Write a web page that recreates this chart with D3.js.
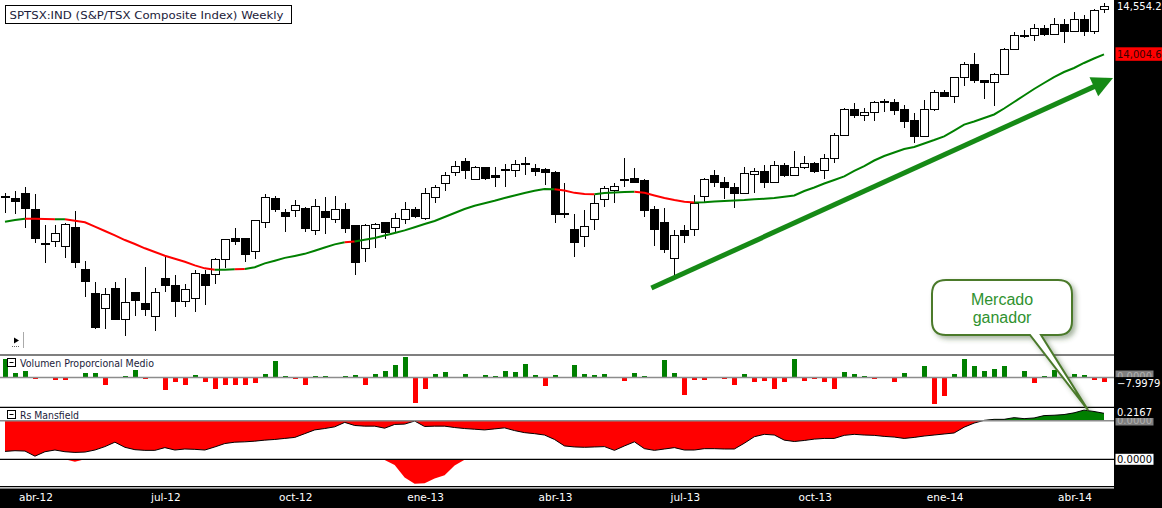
<!DOCTYPE html>
<html>
<head>
<meta charset="utf-8">
<script src="https://cdn.jsdelivr.net/npm/d3@7"></script>
<style>
  body { margin: 0; background: #fff; }
  svg { display: block; }
  text { font-family: "DejaVu Sans", Tahoma, sans-serif; }
</style>
</head>
<body>
<svg id="chart" width="1162" height="508"></svg>
<script>
// weekly candles, SPTSX, mid-March 2012 .. April 2014
const OPEN = [
  12375, 12369, 12415, 12244, 11850, 11876, 11820, 12039, 11561, 11277,
  11114, 11334, 10989, 11296, 11174, 11023, 11459, 11379, 11194, 11228,
  11501, 11501, 11672, 11908, 11911, 11766, 12093, 12366, 12202, 12229,
  12252, 12002, 12221, 12127, 12233, 12051, 11797, 12024, 12096, 12036,
  12127, 12241, 12138, 12377, 12529, 12662, 12790, 12582, 12711, 12631,
  12684, 12677, 12752, 12707, 12696, 12662, 12193, 12013, 11933, 12122,
  12354, 12457, 12570, 12593, 12563, 12233, 12085, 11683, 12005, 12013,
  12392, 12620, 12551, 12494, 12423, 12639, 12673, 12548, 12741, 12628,
  12722, 12764, 12677, 12821, 13083, 13371, 13306, 13345, 13462, 13458,
  13371, 13246, 13067, 13371, 13572, 13522, 13743, 13891, 13712, 13686,
  13777, 14061, 14210, 14213, 14300, 14232, 14346, 14262, 14403, 14262,
  14509
];
const HIGH = [
  12426, 12452, 12498, 12415, 12062, 12062, 12088, 12221, 11652, 11410,
  11342, 11410, 11462, 11300, 11584, 11348, 11717, 11490, 11391, 11550,
  11550, 11683, 11905, 12024, 11915, 12119, 12415, 12392, 12241, 12346,
  12270, 12358, 12381, 12392, 12309, 12062, 12070, 12081, 12100, 12202,
  12327, 12270, 12480, 12517, 12662, 12794, 12821, 12733, 12725, 12725,
  12756, 12802, 12832, 12756, 12707, 12680, 12537, 12187, 12233, 12403,
  12506, 12543, 12821, 12707, 12582, 12282, 12252, 12005, 12062, 12403,
  12600, 12688, 12612, 12543, 12719, 12707, 12745, 12794, 12764, 12904,
  12851, 12782, 12870, 13112, 13390, 13447, 13390, 13473, 13496, 13496,
  13428, 13333, 13485, 13598, 13598, 13748, 13920, 14016, 13716, 13795,
  14073, 14255, 14281, 14349, 14338, 14414, 14406, 14483, 14452, 14517,
  14592
];
const LOW = [
  12199, 12187, 12024, 11854, 11633, 11808, 11690, 11576, 11246, 10875,
  10875, 10981, 10802, 11030, 11030, 10859, 11296, 11012, 11132, 11075,
  11148, 11387, 11569, 11834, 11638, 11672, 12024, 12213, 11986, 12156,
  11982, 11952, 11956, 12081, 11974, 11493, 11644, 11797, 11899, 11974,
  12073, 12138, 12119, 12316, 12452, 12620, 12582, 12574, 12574, 12498,
  12491, 12612, 12631, 12623, 12517, 12081, 12138, 11694, 11815, 12005,
  12270, 12309, 12498, 12540, 12156, 11823, 11740, 11493, 11854, 11940,
  12309, 12498, 12354, 12259, 12420, 12423, 12480, 12537, 12605, 12625,
  12696, 12650, 12582, 12764, 13080, 13276, 13249, 13249, 13351, 13314,
  13162, 12999, 13060, 13365, 13518, 13447, 13644, 13681, 13496, 13416,
  13772, 14055, 14193, 14159, 14213, 14224, 14137, 14258, 14216, 14232,
  14471
];
const CLOSE = [
  12385, 12327, 12248, 11906, 11842, 11968, 12073, 11633, 11417, 10893,
  11273, 10992, 11182, 11200, 11103, 11296, 11371, 11194, 11330, 11512,
  11371, 11664, 11899, 11880, 11729, 12108, 12377, 12241, 12161, 12286,
  12020, 12275, 12145, 12241, 12020, 11633, 12051, 12073, 11979, 12134,
  12241, 12161, 12423, 12491, 12631, 12725, 12684, 12719, 12589, 12605,
  12692, 12753, 12760, 12673, 12662, 12187, 12181, 11861, 12047, 12312,
  12480, 12502, 12578, 12543, 12225, 12008, 11785, 11945, 11940, 12309,
  12582, 12548, 12491, 12423, 12650, 12673, 12548, 12741, 12623, 12714,
  12764, 12669, 12819, 13086, 13371, 13306, 13345, 13458, 13468, 13363,
  13238, 13067, 13371, 13572, 13522, 13743, 13891, 13704, 13686, 13780,
  14061, 14213, 14216, 14300, 14232, 14346, 14262, 14403, 14262, 14501,
  14554.25
];
// 30-week moving average as drawn
const MA30 = [
  12100, 12119, 12134, 12132, 12130, 12128, 12127, 12111, 12093, 12043,
  11994, 11945, 11891, 11846, 11797, 11755, 11713, 11678, 11644, 11603,
  11569, 11553, 11553, 11558, 11561, 11581, 11626, 11656, 11688, 11710,
  11734, 11770, 11806, 11842, 11865, 11874, 11894, 11914, 11942, 11971,
  12001, 12037, 12073, 12108, 12153, 12199, 12244, 12282, 12310, 12338,
  12369, 12398, 12426, 12451, 12472, 12469, 12455, 12428, 12415, 12411,
  12426, 12432, 12438, 12441, 12428, 12398, 12369, 12346, 12327, 12317,
  12321, 12329, 12335, 12341, 12346, 12354, 12361, 12369, 12383, 12398,
  12449, 12489, 12534, 12574, 12616, 12677, 12733, 12796, 12847, 12887,
  12927, 12950, 12990, 13029, 13071, 13137, 13205, 13240, 13280, 13320,
  13388, 13462, 13536, 13610, 13678, 13746, 13803, 13849, 13906, 13957,
  14004.67
];
// MA segments drawn red: [from, to) in bar index
const MA_RED_RANGES = [[2, 5], [6, 21], [23, 24], [34, 35], [55, 59], [63, 69]];

const VOLUME = [
  32.8, 8.3, 12, -3.5, 0, -5.3, -5.3, 0, 8.3, 8.3,
  -14.2, 0, 1.8, 13.7, -3.5, 0, -23.2, -8.8, -12.5, 4.8,
  -8.8, -19.7, -12.5, -12.5, -12.5, -10.7, 6.7, 29.8, 1.8, -3.5,
  -14.2, 1.8, 3, 0, 3, 4.8, -12.5, 6.7, 12, 22.7,
  35.8, -46.3, -19.7, 6.7, 10.2, 0, 6.7, 0, 4.8, 3,
  12, 10.2, 24.5, 4.8, -16, 3.9, 0, 22.2, 6, 4.2,
  6, 0, -6, 7.8, 2.3, 0, 31, 7.8, -31, -4.2,
  -4.2, 0, -2.3, -13, 6, -7.7, -6, -20.2, -7.7, 32.8,
  -6, -2.3, -7.7, -20.2, 9.5, 6, 2.3, -2.3, 0, -7.7,
  7.8, 0, 20.3, -47, -32.7, 6, 32.8, 20.3, 11.3, 14.8,
  20.3, 0, 11.3, -9.5, 2.3, 13.2, 0, 7.1, 4.1, -4.8,
  -7.9979
];

const RS_MANSFIELD = [
  -0.90, -0.88, -0.89, -1.04, -0.91, -0.86, -0.91, -0.93, -0.92, -0.86,
  -0.76, -0.63, -0.78, -0.85, -0.87, -0.87, -0.79, -0.86, -0.83, -0.84,
  -0.86, -0.77, -0.67, -0.63, -0.62, -0.60, -0.57, -0.55, -0.52, -0.49,
  -0.38, -0.27, -0.23, -0.18, -0.05, -0.14, -0.16, -0.16, -0.22, -0.11,
  -0.10, -0.01, -0.17, -0.16, -0.16, -0.20, -0.23, -0.25, -0.27, -0.24,
  -0.21, -0.29, -0.35, -0.38, -0.42, -0.55, -0.74, -0.77, -0.78, -0.77,
  -0.76, -0.87, -0.74, -0.62, -0.82, -0.87, -0.83, -0.79, -0.86, -0.86,
  -0.82, -0.82, -0.83, -0.83, -0.66, -0.47, -0.40, -0.42, -0.57, -0.61,
  -0.58, -0.54, -0.52, -0.52, -0.43, -0.40, -0.42, -0.43, -0.46, -0.48,
  -0.52, -0.49, -0.45, -0.42, -0.39, -0.36, -0.19, -0.07, 0.01, 0.04,
  0.04, 0.09, 0.06, 0.08, 0.15, 0.16, 0.18, 0.23, 0.31, 0.27,
  0.2167
];
// second trace in the lower half of the RS pane
const RS_LOWER = [
  0, 0, 0, 0, 0, 0, 0, -0.07, 0, 0,
  0, 0, 0, 0, 0, 0, 0, 0, 0, 0,
  0, 0, 0, 0, 0, 0, 0, 0, 0, 0,
  0, 0, 0, 0, 0, 0, 0, 0, -0.02, -0.17,
  -0.53, -0.72, -0.70, -0.56, -0.47, -0.18, -0.01, 0, 0, 0,
  0, 0, 0, 0, 0, 0, 0, 0, 0, 0,
  0, 0, 0, 0, 0, 0, 0, 0, 0, 0,
  0, 0, 0, 0, 0, 0, 0, 0, 0, 0,
  0, 0, 0, 0, 0, 0, 0, 0, 0, 0,
  0, 0, 0, 0, 0, 0, 0, 0, 0, 0,
  0, 0, 0, 0, 0, 0, 0, 0, 0, 0,
  0
];

const X_TICK_LABELS = ['abr-12', 'jul-12', 'oct-12', 'ene-13', 'abr-13', 'jul-13', 'oct-13', 'ene-14', 'abr-14'];
const X_TICK_INDEX = [3, 16, 29, 42, 55, 68, 81, 94, 107];

const TITLE = 'SPTSX:IND (S&P/TSX Composite Index) Weekly';
const CALLOUT_TEXT = ['Mercado', 'ganador'];
// trend arrow, in (bar index, price)
const ARROW_FROM = [64.7, 11345];
const ARROW_TO = [110.9, 13735];

const N = CLOSE.length;
const PLOT_R = 1114;
const GREEN = '#008000', RED = '#ff0000';

const svg = d3.select('#chart');

const x = d3.scaleLinear().domain([0, N - 1]).range([5, 1104]);
const yPrice = d3.scaleLinear().domain([10700, 14700]).range([344.7, -6.8]);
const yVol = d3.scaleLinear().domain([-50, 40]).range([405.5, 355.1]);
const yRs = d3.scaleLinear().domain([-1.2, 0.4]).range([461.62, 407.06]);
const yRs2 = d3.scaleLinear().domain([-0.8, 0]).range([486.6, 459.3]);

const defs = svg.append('defs');
defs.append('clipPath').attr('id', 'clipMain')
  .append('rect').attr('x', 0).attr('y', 0).attr('width', PLOT_R).attr('height', 354);
defs.append('clipPath').attr('id', 'clipPos')
  .append('rect').attr('x', 0).attr('y', 407).attr('width', PLOT_R).attr('height', yRs(0) - 407);
defs.append('clipPath').attr('id', 'clipNeg')
  .append('rect').attr('x', 0).attr('y', yRs(0)).attr('width', PLOT_R).attr('height', 459 - yRs(0));
const shadow = defs.append('filter').attr('id', 'shadow')
  .attr('x', '-20%').attr('y', '-20%').attr('width', '150%').attr('height', '150%');
shadow.append('feDropShadow').attr('dx', 3).attr('dy', 3).attr('stdDeviation', 2.5)
  .attr('flood-color', '#3d5a2a').attr('flood-opacity', 0.45);
const blur = defs.append('filter').attr('id', 'soft');
blur.append('feGaussianBlur').attr('stdDeviation', 0.6);

svg.append('rect').attr('width', 1162).attr('height', 508).attr('fill', '#fff');

// ---- price pane
const main = svg.append('g').attr('clip-path', 'url(#clipMain)');

const candles = main.append('g').attr('shape-rendering', 'crispEdges');
const idx = d3.range(N);

candles.selectAll('line.wick')
  .data(idx)
  .join('line')
  .attr('class', 'wick')
  .attr('x1', i => Math.round(x(i)) + 0.5)
  .attr('x2', i => Math.round(x(i)) + 0.5)
  .attr('y1', i => yPrice(HIGH[i]))
  .attr('y2', i => yPrice(LOW[i]))
  .attr('stroke', '#000')
  .attr('stroke-width', 1);

candles.selectAll('rect.body')
  .data(idx)
  .join('rect')
  .attr('class', 'body')
  .attr('x', i => Math.round(x(i)) - 3.5)
  .attr('width', 8)
  .attr('y', i => Math.min(yPrice(OPEN[i]), yPrice(CLOSE[i])))
  .attr('height', i => Math.max(1, Math.abs(yPrice(OPEN[i]) - yPrice(CLOSE[i]))))
  .attr('fill', i => CLOSE[i] >= OPEN[i] ? '#fff' : '#000')
  .attr('stroke', '#000')
  .attr('stroke-width', 1);

// moving average, split into coloured runs
const isRed = i => MA_RED_RANGES.some(r => i >= r[0] && i < r[1]);
const maLine = d3.line().x(i => x(i)).y(i => yPrice(MA30[i]));
let runStart = 0;
for (let i = 1; i <= N - 1; i++) {
  const colour = isRed(i - 1);
  if (i === N - 1 || isRed(i) !== colour) {
    main.append('path')
      .attr('d', maLine(d3.range(runStart, i + 1)))
      .attr('fill', 'none')
      .attr('stroke', colour ? RED : GREEN)
      .attr('stroke-width', 2);
    runStart = i;
  }
}

// trend arrow
{
  const x0 = x(ARROW_FROM[0]), y0 = yPrice(ARROW_FROM[1]);
  const x1 = x(ARROW_TO[0]), y1 = yPrice(ARROW_TO[1]);
  const len = Math.hypot(x1 - x0, y1 - y0);
  const ux = (x1 - x0) / len, uy = (y1 - y0) / len;
  const hl = 21, hw = 10.5;
  const bx = x1 - ux * hl, by = y1 - uy * hl;
  const g = svg.append('g').attr('filter', 'url(#soft)');
  g.append('line')
    .attr('x1', x0).attr('y1', y0).attr('x2', bx + ux * 2).attr('y2', by + uy * 2)
    .attr('stroke', '#178a17').attr('stroke-width', 5);
  g.append('path')
    .attr('d', `M${x1},${y1}L${bx - uy * hw},${by + ux * hw}L${bx + uy * hw},${by - ux * hw}Z`)
    .attr('fill', '#178a17');
}

// title box
svg.append('rect').attr('x', 5.5).attr('y', 5.5).attr('width', 286).attr('height', 18)
  .attr('fill', '#fff').attr('stroke', '#000').attr('stroke-width', 1);
svg.append('text').attr('x', 9.5).attr('y', 18.5)
  .attr('font-size', 11).attr('fill', '#1b1b3a')
  .attr('textLength', 274).attr('lengthAdjust', 'spacingAndGlyphs')
  .text(TITLE);

// small pane widget, bottom-left of price pane
svg.append('path').attr('d', 'M14,337.5L19,340.5L14,343.5Z').attr('fill', '#000');
svg.append('line').attr('x1', 12).attr('x2', 20).attr('y1', 346.5).attr('y2', 346.5)
  .attr('stroke', '#666').attr('stroke-dasharray', '1,1');
svg.append('line').attr('x1', 23.5).attr('x2', 23.5).attr('y1', 332).attr('y2', 348)
  .attr('stroke', '#aaa');

// ---- volume pane
const vol = svg.append('g').attr('shape-rendering', 'crispEdges');
vol.selectAll('rect')
  .data(idx.filter(i => VOLUME[i] !== 0))
  .join('rect')
  .attr('x', i => Math.round(x(i)) - 2)
  .attr('width', 5)
  .attr('y', i => Math.min(yVol(VOLUME[i]), yVol(0)))
  .attr('height', i => Math.abs(yVol(VOLUME[i]) - yVol(0)))
  .attr('fill', i => VOLUME[i] > 0 ? GREEN : RED);

// ---- RS Mansfield pane
const rsArea = d3.area().x(i => x(i)).y0(yRs(0)).y1(i => yRs(RS_MANSFIELD[i]));
svg.append('path').attr('d', rsArea(idx)).attr('fill', RED).attr('clip-path', 'url(#clipNeg)');
svg.append('path').attr('d', rsArea(idx)).attr('fill', GREEN).attr('clip-path', 'url(#clipPos)');
svg.append('path')
  .attr('d', d3.line().x(i => x(i)).y(i => yRs(RS_MANSFIELD[i]))(idx))
  .attr('fill', 'none').attr('stroke', '#000').attr('stroke-width', 1);

const rs2Area = d3.area().x(i => x(i)).y0(yRs2(0)).y1(i => yRs2(RS_LOWER[i]));
svg.append('path').attr('d', rs2Area(idx)).attr('fill', RED);

// pane separators and zero lines
const hline = (y, colour, w) => svg.append('line')
  .attr('x1', 0).attr('x2', PLOT_R).attr('y1', y).attr('y2', y)
  .attr('stroke', colour).attr('stroke-width', w);
hline(355, '#000', 1.2);
hline(yVol(0), '#8c8c8c', 1.5);
hline(407.3, '#000', 1.2);
hline(yRs(0), '#8c8c8c', 1.5);
hline(yRs2(0), '#000', 1.2);
hline(486.6, '#000', 1.2);

// pane titles
function paneTitle(y, label, width) {
  svg.append('rect').attr('x', 7.5).attr('y', y - 8.5).attr('width', 8).attr('height', 8)
    .attr('fill', '#fff').attr('stroke', '#000').attr('stroke-width', 1);
  svg.append('line').attr('x1', 9.5).attr('x2', 13.5).attr('y1', y - 4.5).attr('y2', y - 4.5)
    .attr('stroke', '#000').attr('stroke-width', 1);
  svg.append('text').attr('x', 20).attr('y', y)
    .attr('font-size', 10).attr('fill', '#1b1b3a')
    .attr('textLength', width).attr('lengthAdjust', 'spacingAndGlyphs')
    .text(label);
}
paneTitle(367, 'Volumen Proporcional Medio', 134);
paneTitle(419, 'Rs Mansfield', 59);

// callout pointing at the RS peak
{
  const tipX = x(108) + 4, tipY = yRs(RS_MANSFIELD[108]);
  const L = 932, T = 280, R = 1072, B = 335, r = 14;
  const d = `M${L + r},${T}H${R - r}Q${R},${T} ${R},${T + r}V${B - r}Q${R},${B} ${R - r},${B}` +
    `H1041L${tipX},${tipY}L1030,${B}H${L + r}Q${L},${B} ${L},${B - r}V${T + r}Q${L},${T} ${L + r},${T}Z`;
  svg.append('path').attr('d', d)
    .attr('fill', '#fff').attr('stroke', '#4b7a2c').attr('stroke-width', 2)
    .attr('filter', 'url(#shadow)');
  svg.append('text')
    .attr('x', (L + R) / 2).attr('y', 305)
    .attr('text-anchor', 'middle')
    .style('font-family', '"Liberation Sans", Arial, sans-serif')
    .attr('font-size', 16).attr('fill', '#2f922f')
    .selectAll('tspan')
    .data(CALLOUT_TEXT)
    .join('tspan')
    .attr('x', (L + R) / 2)
    .attr('dy', (d, i) => i === 0 ? 0 : 18)
    .text(d => d);
}

// ---- right value strip
svg.append('rect').attr('x', PLOT_R).attr('y', 0).attr('width', 1162 - PLOT_R).attr('height', 489)
  .attr('fill', '#000');
const fmt = d3.format(',.2f');
let clipN = 0;
// value tag: box [top, bottom], text baseline, text clipped to its box
function valueTag(top, bottom, base, text, bg, fg, w) {
  const id = 'tag' + (clipN++);
  defs.append('clipPath').attr('id', id)
    .append('rect').attr('x', PLOT_R).attr('y', top).attr('width', 1162 - PLOT_R).attr('height', bottom - top);
  if (bg) {
    svg.append('rect').attr('x', PLOT_R + 1.5).attr('y', top)
      .attr('width', w).attr('height', bottom - top).attr('fill', bg);
  }
  svg.append('text').attr('x', PLOT_R + 3).attr('y', base)
    .attr('clip-path', `url(#${id})`)
    .attr('font-size', 10).attr('fill', fg).text(text);
}
const lastPriceY = yPrice(CLOSE[N - 1]);
const lastMaY = yPrice(MA30[N - 1]);
valueTag(lastPriceY - 6, lastPriceY + 6, lastPriceY + 3.8, fmt(CLOSE[N - 1]), null, '#fff', 0);
valueTag(lastMaY - 7, lastMaY + 6.5, lastMaY + 3.8, fmt(MA30[N - 1]), '#ff0000', '#3a0000', 48);
valueTag(370.5, 377.3, 379.8, '0.0000', '#7f7f7f', '#b0b0b0', 38);
valueTag(377.3, 388, 387, d3.format('.4f')(VOLUME[N - 1]), '#000', '#fff', 48);
valueTag(418, 425.5, 424.2, '0.0000', '#7f7f7f', '#b0b0b0', 38);
valueTag(407.5, 418, 416.4, d3.format('.4f')(RS_MANSFIELD[N - 1]), '#000', '#fff', 48);
valueTag(yRs2(0) - 5.5, yRs2(0) + 5.5, yRs2(0) + 3.8, '0.0000', '#fff', '#000', 38);

// ---- bottom date strip
svg.append('rect').attr('x', 0).attr('y', 488.5).attr('width', 1162).attr('height', 20).attr('fill', '#000');
svg.append('g').selectAll('text')
  .data(X_TICK_LABELS)
  .join('text')
  .attr('x', (d, i) => x(X_TICK_INDEX[i]) + 1)
  .attr('y', 501)
  .attr('text-anchor', 'middle')
  .attr('font-size', 10.5)
  .attr('fill', '#fff')
  .text(d => d);
</script>
</body>
</html>
